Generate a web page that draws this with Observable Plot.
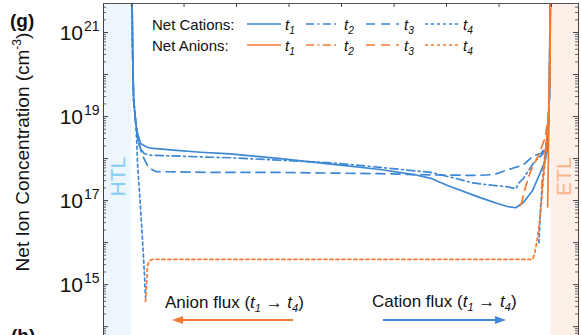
<!DOCTYPE html>
<html>
<head>
<meta charset="utf-8">
<script src="https://cdn.jsdelivr.net/npm/d3@7"></script>
<script src="https://cdn.jsdelivr.net/npm/@observablehq/plot@0.6"></script>
<style>
  body { margin: 0; background: #fff; }
  #chart { position: relative; width: 581px; height: 335px; overflow: hidden; }
  svg text { font-family: "Liberation Sans", Arial, sans-serif; }
</style>
</head>
<body>
<div id="chart"></div>
<script>
const W = 581, H = 335;

// Depth through the device (nm): HTL | perovskite 0–400 nm | ETL
const xDomain = [-26.7, 425.7];
const htlSpan = [-26.7, 0];
const etlSpan = [400, 425.7];
const xTicks = [0, 50, 100, 150, 200, 250, 300, 350, 400];

// log10 of the visible concentration window (cm^-3)
const yLogDomain = [13.79, 21.69];
const yLabelExps = [21, 19, 17, 15];

// Net cation concentration, log10(cm^-3), at four times
const catT1X = [0, 1, 1.5, 2, 4, 5.7, 8.6, 14, 18, 40, 66, 94, 142, 190, 237, 269, 285, 301, 332, 350, 358, 366, 373, 382, 390, 394, 396, 397, 398, 399];
const catT1Y = [23, 20.6, 19.9, 19.4, 18.85, 18.6, 18.36, 18.28, 18.25, 18.2, 18.15, 18.11, 18.0, 17.87, 17.74, 17.62, 17.53, 17.36, 17.07, 16.92, 16.86, 16.83, 16.95, 17.24, 17.71, 17.95, 18.19, 18.67, 19.5, 23];

const catT2X = [0, 1, 1.5, 2, 4, 5.7, 8, 12, 18, 66, 94, 190, 237, 285, 310, 325, 345, 358, 366, 369, 373, 383, 392, 395, 397, 398, 399];
const catT2Y = [23, 20.6, 19.9, 19.4, 18.85, 18.5, 18.25, 18.12, 18.08, 18.04, 18.02, 17.9, 17.79, 17.67, 17.52, 17.42, 17.36, 17.33, 17.28, 17.42, 17.52, 17.9, 18.12, 18.3, 18.8, 19.5, 23];

const catT3X = [0, 1, 1.5, 2, 4, 5.7, 10, 16, 23, 80, 142, 237, 285, 330, 345, 363, 373, 383, 390, 395, 397, 398, 399];
const catT3Y = [23, 20.6, 19.9, 19.4, 18.85, 18.5, 18.1, 17.79, 17.69, 17.67, 17.67, 17.64, 17.61, 17.6, 17.62, 17.77, 17.85, 18.07, 18.12, 18.3, 18.8, 19.5, 23];

// t4 cations fall below zero across the bulk, so the curve shows only near each contact
const catT4LeftX = [0, 1, 1.5, 2, 4, 5, 5.7, 8.1, 10.5, 12.4, 13.3];
const catT4LeftY = [23, 20.6, 19.9, 19.4, 18.85, 18.4, 17.9, 17.0, 16.05, 15.2, 14.7];
const catT4RightX = [388, 389.5, 392.4, 395, 397, 398, 399];
const catT4RightY = [16.0, 16.8, 17.79, 18.3, 18.8, 19.5, 23];

// Net anion concentration, log10(cm^-3)
const anT1X = [396.3, 396.8, 397.4, 398, 398.8, 399.5];
const anT1Y = [16.85, 17.6, 18.6, 19.6, 21, 23];

const anT2X = [390.5, 393, 395.5, 397.5, 398.5, 399.3];
const anT2Y = [17.3, 17.9, 18.5, 19.2, 20.5, 23];

const anT3X = [371, 375, 380, 388, 394, 397, 398.5, 399.3];
const anT3Y = [16.9, 17.3, 17.7, 18.1, 18.5, 19.0, 20.2, 23];

const anT4X = [13.3, 14.3, 15.2, 17, 20, 100, 200, 300, 382, 384, 386.7, 389.5, 392.4, 394, 396.5, 398, 399.3];
const anT4Y = [14.6, 15.0, 15.45, 15.57, 15.6, 15.6, 15.6, 15.6, 15.6, 15.75, 16.12, 16.69, 17.55, 17.95, 18.7, 19.6, 23];

const BLUE = "#3d87d5";
const ORANGE = "#f47a32";
const DASH = {solid: null, dashdot: "8,3.5,1.8,3.5", dashed: "9,6", dotted: "3,3"};

const toRows = (xs, ys) => xs.map((x, i) => ({x, y: 10 ** ys[i]}));

const series = [
  {rows: toRows(catT1X, catT1Y), stroke: BLUE, dash: DASH.solid},
  {rows: toRows(catT2X, catT2Y), stroke: BLUE, dash: DASH.dashdot},
  {rows: toRows(catT3X, catT3Y), stroke: BLUE, dash: DASH.dashed},
  {rows: toRows(catT4LeftX, catT4LeftY), stroke: BLUE, dash: DASH.dotted},
  {rows: toRows(catT4RightX, catT4RightY), stroke: BLUE, dash: DASH.dotted},
  {rows: toRows(anT4X, anT4Y), stroke: ORANGE, dash: DASH.dotted},
  {rows: toRows(anT3X, anT3Y), stroke: ORANGE, dash: DASH.dashed},
  {rows: toRows(anT2X, anT2Y), stroke: ORANGE, dash: DASH.dashdot},
  {rows: toRows(anT1X, anT1Y), stroke: ORANGE, dash: DASH.solid}
];

const yLo = 10 ** yLogDomain[0], yHi = 10 ** yLogDomain[1];

// minor log ticks: 2..9 × 10^k, major ticks at each decade
const majorY = d3.range(14, 22).map(k => 10 ** k);
const minorY = d3.range(13, 22).flatMap(k => d3.range(2, 10).map(m => m * 10 ** k)).filter(v => v > yLo && v < yHi);

const frameW = W - 103 - 3;

const chart = Plot.plot({
  width: W,
  height: H,
  marginLeft: 103,
  marginRight: 3,
  marginTop: 3,
  marginBottom: 0,
  style: {background: "white", fontFamily: "Liberation Sans, Arial, sans-serif", overflow: "visible"},
  x: {domain: xDomain, axis: null},
  y: {type: "log", domain: [yLo, yHi], axis: null},
  marks: [
    Plot.rect([htlSpan], {x1: d => d[0], x2: d => d[1], y1: yLo, y2: yHi, fill: "#edf5fd"}),
    Plot.rect([etlSpan], {x1: d => d[0], x2: d => d[1], y1: yLo, y2: yHi, fill: "#fdf0e8"}),
    Plot.text(["HTL"], {x: -12.5, y: 10 ** 17.57, text: d => d, rotate: -90, fill: "#84cdf6", fontSize: 21}),
    Plot.text(["ETL"], {x: 412, y: 10 ** 17.57, text: d => d, rotate: -90, fill: "#fbb48e", fontSize: 21}),
    ...series.map(s => Plot.line(s.rows, {
      x: "x", y: "y", stroke: s.stroke, strokeWidth: 1.7,
      strokeDasharray: s.dash ?? undefined, clip: true, curve: "linear"
    })),
    // inward ticks on the frame
    Plot.tickX(xTicks, {x: d => d, insetBottom: H - 3 - 4, stroke: "#444"}),
    Plot.tickY(majorY, {y: d => d, insetRight: frameW - 5, stroke: "#444"}),
    Plot.tickY(minorY, {y: d => d, insetRight: frameW - 3, stroke: "#666"}),
    Plot.tickY(majorY, {y: d => d, insetLeft: frameW - 5, stroke: "#444"}),
    Plot.tickY(minorY, {y: d => d, insetLeft: frameW - 3, stroke: "#666"}),
    Plot.ruleX([xDomain[0], xDomain[1]], {stroke: "#444", strokeWidth: 1}),
    Plot.ruleY([yHi], {stroke: "#555", strokeWidth: 1})
  ]
});

document.getElementById("chart").appendChild(chart);

const svg = d3.select(chart);
const sx = chart.scale("x"), sy = chart.scale("y");

// annotation layer; Plot's root sets text-anchor middle, so reset it here
const ann = svg.append("g").attr("text-anchor", "start").attr("fill", "#111");

// y tick labels: 10^n
yLabelExps.forEach(e => {
  const yy = sy.apply(10 ** e);
  ann.append("text").attr("x", 83).attr("y", yy + 8).attr("text-anchor", "end")
    .attr("font-size", 21).text("10");
  ann.append("text").attr("x", 84).attr("y", yy - 1).attr("font-size", 14).text(String(e));
});

// y axis title
const yt = ann.append("text")
  .attr("transform", "translate(29,152) rotate(-90)")
  .attr("text-anchor", "middle").attr("font-size", 19);
yt.append("tspan").text("Net Ion Concentration (cm");
yt.append("tspan").attr("font-size", 12).attr("dy", -8).text("-3");
yt.append("tspan").attr("dy", 8).text(")");

// panel letters
ann.append("text").attr("x", 10).attr("y", 27).attr("font-size", 19).attr("font-weight", "bold").text("(g)");
ann.append("text").attr("x", 11).attr("y", 342).attr("font-size", 19).attr("font-weight", "bold").text("(h)");

// legend
function tLabel(g, x, y, n, size) {
  const t = g.append("text").attr("x", x).attr("y", y).attr("font-size", size).attr("font-style", "italic");
  t.append("tspan").text("t");
  t.append("tspan").attr("font-size", size * 0.68).attr("dy", 4).text(String(n));
  return t;
}
const legendRows = [
  {label: "Net Cations:", stroke: BLUE, y: 30},
  {label: "Net Anions:", stroke: ORANGE, y: 51}
];
const legendSamples = [
  {x1: 247, x2: 281, tx: 285, n: 1, dash: DASH.solid},
  {x1: 306, x2: 339, tx: 344, n: 2, dash: DASH.dashdot},
  {x1: 366, x2: 399, tx: 404, n: 3, dash: DASH.dashed},
  {x1: 425, x2: 459, tx: 463, n: 4, dash: DASH.dotted}
];
legendRows.forEach(r => {
  ann.append("text").attr("x", 152).attr("y", r.y).attr("font-size", 15).text(r.label);
  legendSamples.forEach(s => {
    ann.append("line").attr("x1", s.x1).attr("x2", s.x2).attr("y1", r.y - 6).attr("y2", r.y - 6)
      .attr("stroke", r.stroke).attr("stroke-width", 1.7)
      .attr("stroke-dasharray", s.dash);
    tLabel(ann, s.tx, r.y, s.n, 15);
  });
});

// flux annotations
function fluxText(x, y, word) {
  const t = ann.append("text").attr("x", x).attr("y", y).attr("font-size", 17);
  t.append("tspan").text(word + " flux (");
  t.append("tspan").attr("font-style", "italic").text("t");
  t.append("tspan").attr("font-style", "italic").attr("font-size", 11).attr("dy", 4).text("1");
  t.append("tspan").attr("dy", -4).text(" \u2192 ");
  t.append("tspan").attr("font-style", "italic").text("t");
  t.append("tspan").attr("font-style", "italic").attr("font-size", 11).attr("dy", 4).text("4");
  t.append("tspan").attr("dy", -4).text(")");
}
fluxText(165, 308, "Anion");
fluxText(372, 307, "Cation");

function arrow(xFrom, xTo, y, color) {
  const dir = Math.sign(xTo - xFrom);
  const head = 11, half = 4;
  ann.append("line").attr("x1", xFrom).attr("x2", xTo - dir * head + dir).attr("y1", y).attr("y2", y)
    .attr("stroke", color).attr("stroke-width", 1.8);
  ann.append("path")
    .attr("d", `M${xTo},${y}L${xTo - dir * head},${y - half}L${xTo - dir * head},${y + half}Z`)
    .attr("fill", color);
}
arrow(293, 172, 320, ORANGE);
arrow(383, 506, 320, BLUE);
</script>
</body>
</html>
